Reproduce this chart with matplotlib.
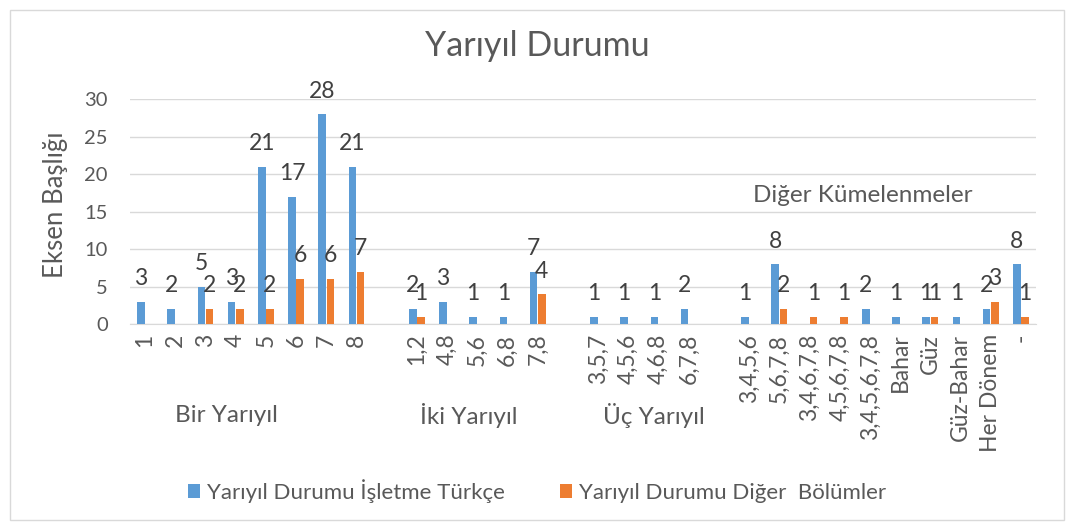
import numpy as np
import matplotlib
matplotlib.use("Agg")
import matplotlib.pyplot as plt
from matplotlib.patches import Rectangle

plt.rcParams['font.family'] = ['Lato', 'DejaVu Sans']

groups = ["Bir Yarıyıl", "İki Yarıyıl", "Üç Yarıyıl", "Diğer Kümelenmeler"]
categories = [
    ["1", "2", "3", "4", "5", "6", "7", "8"],
    ["1,2", "4,8", "5,6", "6,8", "7,8"],
    ["3,5,7", "4,5,6", "4,6,8", "6,7,8"],
    ["3,4,5,6", "5,6,7,8", "3,4,6,7,8", "4,5,6,7,8", "3,4,5,6,7,8",
     "Bahar", "Güz", "Güz-Bahar", "Her Dönem", "-"],
]
turkce = [
    [3, 2, 5, 3, 21, 17, 28, 21],
    [2, 3, 1, 1, 7],
    [1, 1, 1, 2],
    [1, 8, None, None, 2, 1, 1, 1, 2, 8],
]
diger = [
    [None, None, 2, 2, 2, 6, 6, 7],
    [1, None, None, None, 4],
    [None, None, None, None],
    [None, 2, 1, 1, None, None, 1, None, 3, 1],
]
series_names = ["Yarıyıl Durumu İşletme Türkçe", "Yarıyıl Durumu Diğer  Bölümler"]
colors = ["#5B9BD5", "#ED7D31"]
text_color = "#595959"

# positions with one blank slot between groups
positions, labels, tv, dv = [], [], [], []
pos = 0
for gi, cats in enumerate(categories):
    for ci, c in enumerate(cats):
        positions.append(pos)
        labels.append(c)
        tv.append(np.nan if turkce[gi][ci] is None else turkce[gi][ci])
        dv.append(np.nan if diger[gi][ci] is None else diger[gi][ci])
        pos += 1
    pos += 1
positions = np.array(positions, dtype=float)
n_slots = pos - 1

fig = plt.figure(figsize=(10.74, 5.31), dpi=100)
fig.patches.append(Rectangle((0.009, 0.02), 0.982, 0.962, transform=fig.transFigure,
                             fill=False, edgecolor="#D9D9D9", linewidth=1.0))
ax_h = (324 - 99) / 531
ax = fig.add_axes([130 / 1074, 1 - 324 / 531, (1036 - 130) / 1074, ax_h])

w = 0.25
for vals, off, col, name in [(tv, -w / 2 - 0.01, colors[0], series_names[0]),
                             (dv, w / 2 + 0.01, colors[1], series_names[1])]:
    vals = np.array(vals, dtype=float)
    ax.bar(positions + off, np.nan_to_num(vals), width=w, color=col, label=name, zorder=3)
    for x, v in zip(positions + off, vals):
        if not np.isnan(v):
            ax.annotate(f"{int(v)}", (x, v), xytext=(0, 9), textcoords="offset points",
                        ha="center", va="bottom", fontsize=16.5, color="#404040")

ax.set_xlim(-0.5, n_slots - 0.5)
ax.set_ylim(0, 30)
ax.set_yticks(range(0, 31, 5))
ax.yaxis.grid(True, color="#D9D9D9", linewidth=1, zorder=0)
ax.set_axisbelow(True)
for s in ["top", "right", "left"]:
    ax.spines[s].set_visible(False)
ax.spines["bottom"].set_color("#D9D9D9")
ax.tick_params(axis="y", length=0, labelsize=14.5, labelcolor=text_color, pad=16)
ax.set_xticks(positions)
ax.set_xticklabels(labels, rotation=90, fontsize=16.5, color=text_color)
ax.tick_params(axis="x", length=0, pad=7)
ax.set_ylabel("Eksen Başlığı", fontsize=18.5, color=text_color)
ax.yaxis.set_label_coords((68 - 130) / 906, (324 - 205) / 225)

# group labels (placement as in the reference)
group_label_x = [2.69, 10.71, 16.85, 23.75]
gy = -(415 - 324) / (324 - 99)
for gi in range(3):
    ax.text(group_label_x[gi], gy, groups[gi], transform=ax.get_xaxis_transform(),
            ha="center", va="center", fontsize=17.5, color=text_color)
ax.text(group_label_x[3], 1 - (195 - 99) / (324 - 99), groups[3],
        transform=ax.get_xaxis_transform(), ha="center", va="center",
        fontsize=17.5, color=text_color)

fig.text(0.5, 1 - 46 / 531, "Yarıyıl Durumu", ha="center", va="center", fontsize=24.5, color=text_color)

leg = fig.legend(loc="center", bbox_to_anchor=(0.5, 1 - 491 / 531), ncol=2, frameon=False,
                 fontsize=16, handlelength=0.55, handleheight=0.55, columnspacing=2.5,
                 handletextpad=0.3)
for t in leg.get_texts():
    t.set_color(text_color)

fig.savefig("out.png", dpi=100)
